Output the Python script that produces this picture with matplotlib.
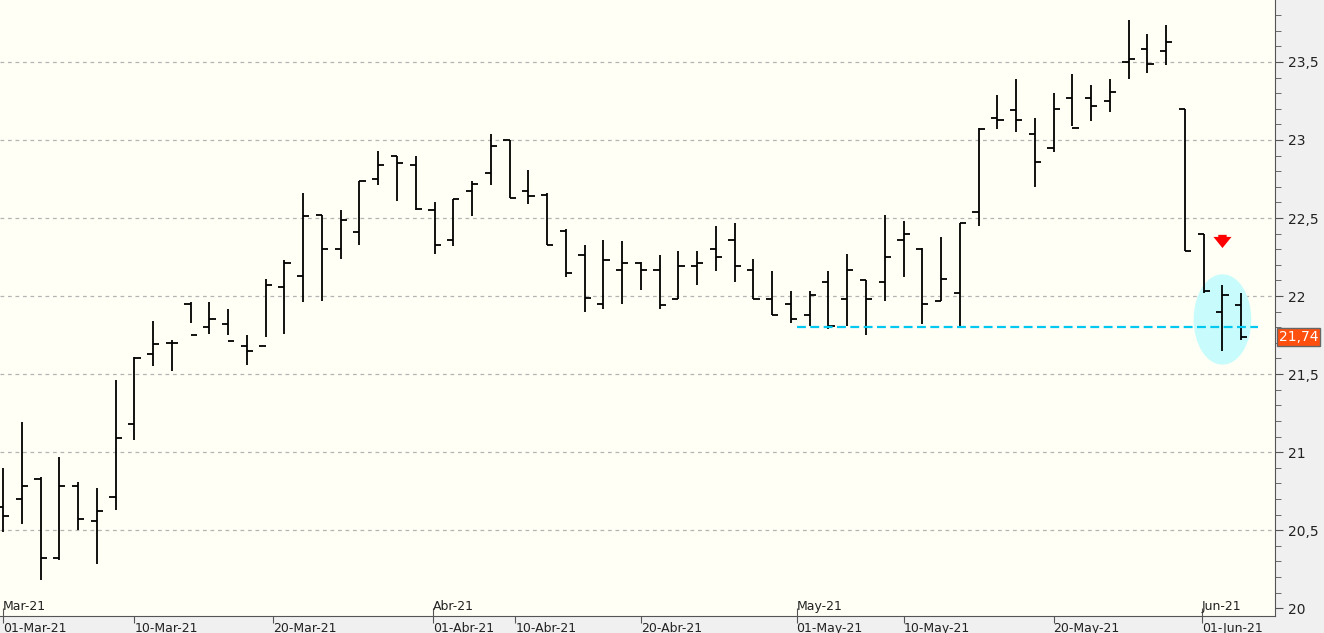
import matplotlib
matplotlib.use("Agg")
import numpy as np
from matplotlib import pyplot as plt
from matplotlib.patches import Ellipse

# OHLC
opens = [20.65, 20.70, 20.83, 20.32, 20.78, 20.56, 20.71, 21.18, 21.63, 21.70,
         21.95, 21.80, 21.82, 21.68, 21.68, 22.06, 22.13, 22.52, 22.30, 22.41,
         22.75, 22.90, 22.84, 22.55, 22.36, 22.67, 22.79, 23.00, 22.67, 22.65,
         22.42, 22.26, 21.95, 22.17, 22.21, 22.17, 21.98, 22.19, 22.30, 22.36,
         22.17, 21.98, 21.95, 21.88, 22.09, 21.98, 22.10, 22.09, 22.36, 22.30,
         21.97, 22.02, 22.54, 23.14, 23.19, 23.04, 22.95, 23.27, 23.27, 23.25,
         23.50, 23.58, 23.57, 23.20, 22.40, 21.90, 21.94]
highs = [20.90, 21.19, 20.84, 20.97, 20.81, 20.77, 21.46, 21.61, 21.84, 21.72,
         21.96, 21.96, 21.92, 21.75, 22.11, 22.23, 22.66, 22.52, 22.55, 22.74,
         22.93, 22.90, 22.90, 22.60, 22.62, 22.74, 23.04, 23.00, 22.81, 22.66,
         22.43, 22.33, 22.36, 22.35, 22.22, 22.26, 22.29, 22.29, 22.45, 22.47,
         22.24, 22.16, 22.03, 22.03, 22.16, 22.27, 22.10, 22.52, 22.48, 22.31,
         22.38, 22.47, 23.08, 23.29, 23.39, 23.14, 23.30, 23.42, 23.35, 23.39,
         23.77, 23.68, 23.74, 23.20, 22.40, 22.07, 22.02]
lows = [20.49, 20.54, 20.18, 20.31, 20.50, 20.28, 20.63, 21.08, 21.55, 21.52,
        21.83, 21.76, 21.75, 21.56, 21.74, 21.76, 21.96, 21.97, 22.24, 22.33,
        22.71, 22.61, 22.55, 22.27, 22.32, 22.51, 22.71, 22.63, 22.59, 22.33,
        22.12, 21.90, 21.92, 21.95, 22.04, 21.92, 21.98, 22.07, 22.16, 22.09,
        21.98, 21.88, 21.83, 21.81, 21.79, 21.81, 21.75, 21.97, 22.12, 21.82,
        21.97, 21.81, 22.45, 23.07, 23.05, 22.70, 22.92, 23.09, 23.12, 23.18,
        23.39, 23.43, 23.48, 22.29, 22.02, 21.65, 21.72]
closes = [20.59, 20.78, 20.32, 20.78, 20.57, 20.62, 21.09, 21.60, 21.69, 21.70,
          21.75, 21.85, 21.71, 21.65, 22.07, 22.21, 22.51, 22.30, 22.49, 22.74,
          22.84, 22.85, 22.56, 22.33, 22.62, 22.72, 22.96, 22.63, 22.64, 22.33,
          22.15, 21.99, 22.23, 22.21, 22.17, 21.94, 22.19, 22.21, 22.25, 22.19,
          21.98, 21.88, 21.85, 22.01, 21.81, 22.17, 21.98, 22.25, 22.40, 21.95,
          22.11, 22.47, 23.07, 23.13, 23.13, 22.86, 23.20, 23.08, 23.22, 23.31,
          23.52, 23.49, 23.63, 22.29, 22.03, 22.01, 21.74]

top_labels = ["Mar-21", "Abr-21", "May-21", "Jun-21"]
top_pos = [0, 22.9, 42.3, 63.9]
bottom_labels = ["01-Mar-21", "10-Mar-21", "20-Mar-21", "01-Abr-21", "10-Abr-21",
                 "20-Abr-21", "01-May-21", "10-May-21", "20-May-21", "01-Jun-21"]
bottom_pos = [0, 7, 14.4, 22.9, 27.3, 34, 42.3, 48, 56, 63.9]

support = 21.80
last = closes[-1]

fig = plt.figure(figsize=(13.24, 6.33), dpi=100, facecolor="#f0f0f0")
ax = fig.add_axes([0, 17 / 633, 1275 / 1324, 616 / 633])
ax.set_facecolor("#fffff5")

x = np.arange(len(opens))
w = 0.33
ax.vlines(x, lows, highs, color="black", lw=1.3)
ax.hlines(opens, x - w, x, color="black", lw=1.3)
ax.hlines(closes, x, x + w, color="black", lw=1.3)

ax.set_xlim(-0.16, 67.8)
ax.set_ylim(19.95, 23.897)

# grid
for v in np.arange(20.5, 23.6, 0.5):
    ax.axhline(v, color="#b4b4b4", lw=0.9, ls=(0, (3, 3)), zorder=0)

# support line, highlight, arrow
ax.hlines(support, 42.3, 66.9, color="#00c8f0", lw=1.6, ls=(0, (4, 2)))
ax.add_patch(Ellipse((65, 21.85), 3.0, 0.57, color="#c8fcfc", zorder=0.5))
ax.annotate("", xy=(65, 22.29), xytext=(65, 22.41),
            arrowprops=dict(arrowstyle="simple,head_width=1.3,head_length=0.8,tail_width=0.6",
                            color="red", lw=0))

# right axis
ax.yaxis.tick_right()
ax.set_yticks(np.arange(20, 23.6, 0.5))
ax.set_yticklabels([f"{v:g}".replace(".", ",") for v in np.arange(20, 23.6, 0.5)],
                   fontsize=10, color="#222222")
ax.set_yticks(np.arange(20, 23.9, 0.1), minor=True)
ax.tick_params(axis="y", which="major", length=6, color="#555555")
ax.tick_params(axis="y", which="minor", length=4, color="#555555")
ax.text(1.003, (last - 19.95) / (23.897 - 19.95), f"{last:.2f}".replace(".", ","),
        transform=ax.transAxes, fontsize=10, color="white", va="center",
        ha="left", bbox=dict(boxstyle="square,pad=0.15", fc="#ff5010", ec="#666666"))

# x labels, two rows
ax.set_xticks(bottom_pos)
ax.set_xticklabels(bottom_labels, fontsize=9, ha="left", color="#222222")
ax.tick_params(axis="x", length=5, pad=-1, color="#555555")
for p, lab in zip(top_pos, top_labels):
    ax.text(p, 19.97, lab, fontsize=9, ha="left", va="bottom", color="#222222")
    ax.vlines(p, 19.95, 20.0, color="#555555", lw=0.8)

for s in ["top", "left"]:
    ax.spines[s].set_visible(False)
ax.spines["right"].set_color("#555555")
ax.spines["bottom"].set_color("#555555")

fig.savefig("out.png", dpi=100, facecolor=fig.get_facecolor())
